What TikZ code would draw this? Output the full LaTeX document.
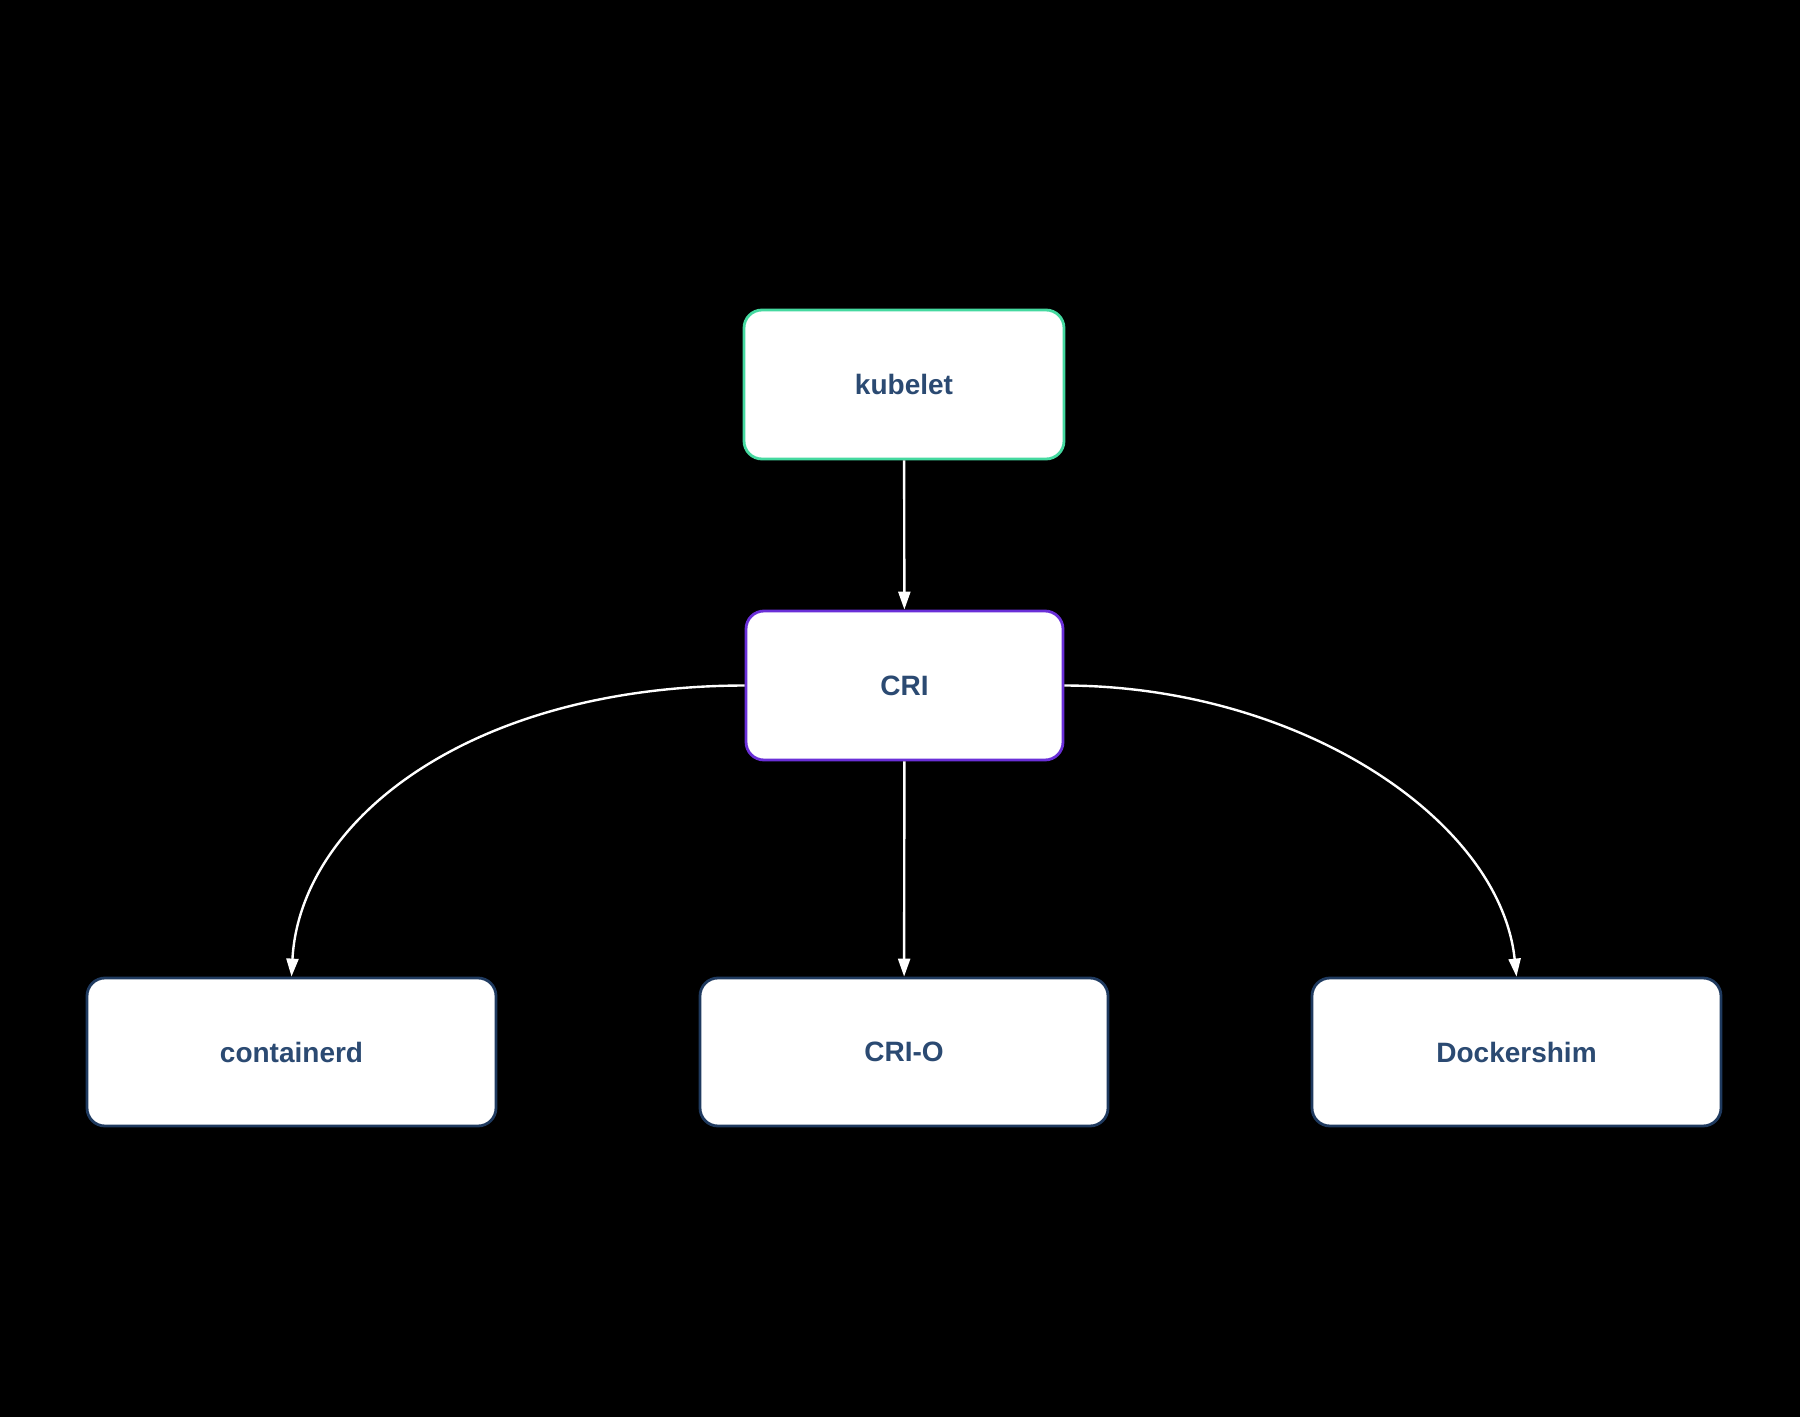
\documentclass[tikz,border=0pt]{standalone}
\usepackage{fontspec}
\setmainfont{Liberation Sans}
\usetikzlibrary{arrows.meta}
\definecolor{txtblue}{HTML}{2B4A72}
\definecolor{kubegreen}{HTML}{45D9A0}
\definecolor{cripurple}{HTML}{6A2FD8}
\definecolor{rtnavy}{HTML}{1F3A5F}
\tikzset{
  box/.style={draw, line width=1.4pt, fill=white, rounded corners=9pt, font=\fontsize{14}{16}\selectfont\bfseries, text=txtblue},
  flow/.style={draw=white, line width=1.2pt, -{Triangle[length=9pt,width=6pt,fill=white]}}
}
\begin{document}
\begin{tikzpicture}[x=0.5pt,y=0.5pt,yscale=-1,xscale=1]
        \fill[black] (0,0) rectangle (1800,1417);
        \useasboundingbox (0,0) rectangle (1800,1417);
        % Boxes
        \node[box, draw=kubegreen, minimum width=160pt, minimum height=74.5pt] (kubelet) at (904,384.5) {kubelet};
        \node[box, draw=cripurple, minimum width=158.5pt, minimum height=74.5pt] (cri) at (904.5,685.5) {CRI};
        \node[box, draw=rtnavy, minimum width=204.5pt, minimum height=74pt] (containerd) at (291.5,1052) {containerd};
        \node[box, draw=rtnavy, minimum width=204pt, minimum height=74pt] (crio) at (904,1052) {CRI-O};
        \node[box, draw=rtnavy, minimum width=204.5pt, minimum height=74pt] (dockershim) at (1516.5,1052) {Dockershim};
        % Connectors
        \draw[flow] (kubelet) -- (cri);
        \draw[flow] (cri) -- (crio);
        \draw[flow] (cri.west) .. controls (470,686) and (300,820) .. (containerd.north);
        \draw[flow] (cri.east) .. controls (1300,686) and (1500,820) .. (dockershim.north);
\end{tikzpicture}
\end{document}
